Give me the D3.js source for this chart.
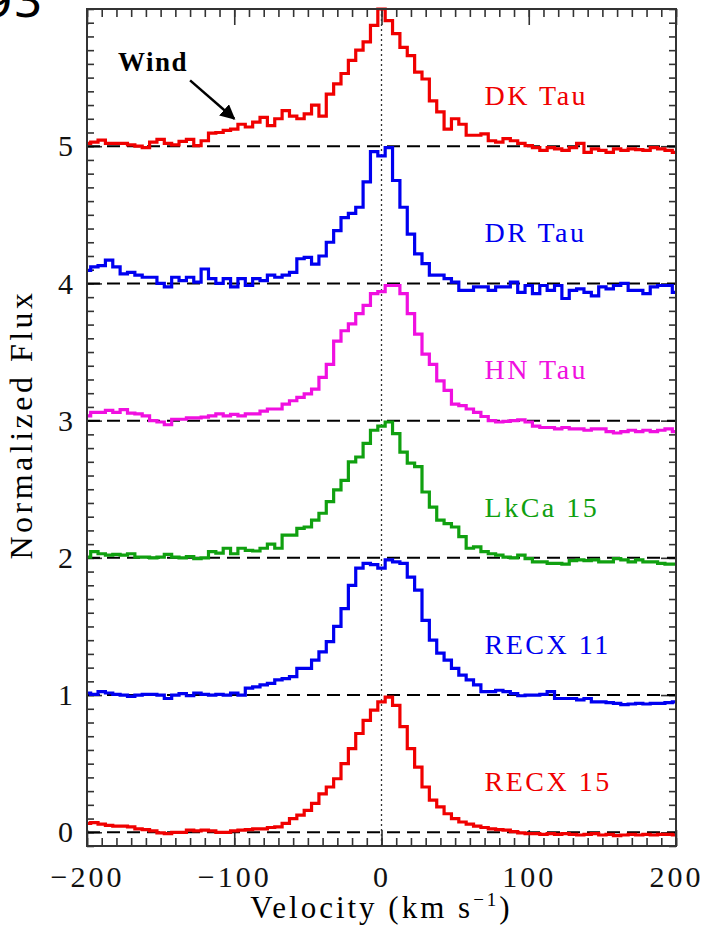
<!DOCTYPE html>
<html lang="en">
<head>
<meta charset="utf-8">
<style>
body { margin: 0; background: #fff; }
svg { display: block; }
.tick text { font-family: "Liberation Serif", serif; fill: #111; }
.tick line { stroke: #333; stroke-width: 1.6px; }
.axis path.domain { display: none; }
</style>
</head>
<body>
<svg width="705" height="929"></svg>
<script src="https://cdn.jsdelivr.net/npm/d3@7/dist/d3.min.js"></script>
<script>
// velocity grid (km/s)
var velocity = [-200,-195,-190,-185,-180,-175,-170,-165,-160,-155,
  -150,-145,-140,-135,-130,-125,-120,-115,-110,-105,
  -100,-95,-90,-85,-80,-75,-70,-65,-60,-55,
  -50,-45,-40,-35,-30,-25,-20,-15,-10,-5,
  0,
  5,10,15,20,25,30,35,40,45,50,
  55,60,65,70,75,80,85,90,95,100,
  105,110,115,120,125,130,135,140,145,150,
  155,160,165,170,175,180,185,190,195,200];

var dkTau = [0.02,0.03,0.045,0.02,0.02,0.02,0.01,0.0,-0.01,0.03,
  0.05,0.02,0.01,0.035,0.05,0.005,0.04,0.095,0.1,0.115,
  0.125,0.16,0.14,0.175,0.21,0.15,0.2,0.26,0.22,0.2,
  0.235,0.3,0.22,0.38,0.455,0.53,0.625,0.7,0.76,0.88,
  1.0,
  0.915,0.82,0.72,0.66,0.54,0.49,0.33,0.25,0.125,0.2,
  0.16,0.08,0.08,0.09,0.04,0.03,0.055,0.04,0.02,0.005,
  -0.01,-0.03,-0.01,-0.02,-0.03,-0.01,0.02,-0.045,-0.02,-0.03,
  -0.045,-0.02,-0.03,-0.02,-0.025,-0.03,-0.01,-0.02,-0.03,-0.045];

var drTau = [0.095,0.12,0.13,0.17,0.12,0.07,0.08,0.06,0.045,0.045,
  0.0,-0.025,0.045,0.02,0.045,0.01,0.105,0.035,0.0,0.035,
  -0.025,0.035,-0.015,0.035,0.02,0.06,0.045,0.06,0.08,0.18,
  0.19,0.14,0.2,0.3,0.385,0.48,0.51,0.555,0.74,0.96,
  0.93,
  0.99,0.75,0.555,0.36,0.215,0.145,0.06,0.06,0.035,0.01,
  -0.05,-0.05,-0.025,-0.025,-0.05,-0.025,-0.025,0.01,-0.065,-0.015,
  -0.075,-0.015,-0.05,-0.015,-0.11,-0.05,-0.04,-0.065,-0.09,-0.025,
  -0.04,-0.015,0.0,-0.05,-0.05,-0.075,-0.025,-0.015,-0.015,-0.065];

var hnTau = [0.035,0.06,0.06,0.075,0.06,0.08,0.055,0.05,0.035,0.0,
  -0.01,-0.03,0.01,0.01,0.02,0.02,0.025,0.035,0.05,0.035,
  0.045,0.035,0.05,0.05,0.07,0.085,0.085,0.12,0.145,0.17,
  0.195,0.23,0.315,0.41,0.58,0.655,0.705,0.78,0.84,0.925,
  0.94,
  0.985,0.985,0.925,0.78,0.63,0.485,0.41,0.29,0.22,0.12,
  0.11,0.085,0.06,0.03,0.0,-0.01,-0.005,0.0,0.005,-0.01,
  -0.04,-0.05,-0.05,-0.06,-0.05,-0.06,-0.06,-0.07,-0.06,-0.06,
  -0.08,-0.09,-0.08,-0.07,-0.08,-0.07,-0.08,-0.07,-0.06,-0.08];

var lkCa15 = [0.005,0.045,0.03,0.02,0.025,0.02,0.03,0.005,0.005,0.0,
  0.005,0.025,0.005,0.0,0.01,-0.005,0.0,0.045,0.035,0.07,
  0.03,0.07,0.055,0.05,0.07,0.1,0.07,0.165,0.165,0.215,
  0.225,0.275,0.325,0.41,0.495,0.565,0.7,0.735,0.835,0.93,
  0.96,
  0.99,0.905,0.77,0.69,0.665,0.48,0.37,0.275,0.25,0.225,
  0.155,0.07,0.08,0.045,0.03,0.02,0.005,0.0,0.02,-0.005,
  -0.03,-0.03,-0.04,-0.04,-0.045,-0.02,-0.015,-0.02,-0.015,-0.03,
  -0.03,-0.005,-0.015,-0.03,-0.015,-0.03,-0.03,-0.04,-0.045,-0.045];

var recx11 = [0.015,0.005,0.025,0.015,0.005,0.0,-0.01,0.0,0.005,0.005,
  0.0,-0.025,0.0,0.01,-0.005,0.015,0.005,0.0,0.005,0.0,
  0.015,0.0,0.05,0.06,0.075,0.085,0.11,0.12,0.135,0.195,
  0.195,0.255,0.315,0.39,0.5,0.63,0.8,0.925,0.96,0.95,
  0.925,
  0.985,0.97,0.96,0.86,0.765,0.545,0.4,0.305,0.255,0.195,
  0.145,0.11,0.075,0.025,0.025,0.035,0.025,0.01,-0.005,0.0,
  0.0,0.005,0.025,-0.025,-0.025,-0.025,-0.035,-0.025,-0.05,-0.05,
  -0.055,-0.06,-0.07,-0.065,-0.06,-0.065,-0.06,-0.06,-0.055,-0.05];

var recx15 = [0.065,0.07,0.06,0.05,0.045,0.045,0.04,0.025,0.02,0.01,
  -0.005,-0.01,0.0,0.0,0.015,0.01,0.015,0.01,0.0,0.0,
  0.01,0.015,0.02,0.025,0.025,0.035,0.04,0.065,0.1,0.125,
  0.16,0.21,0.28,0.33,0.39,0.5,0.61,0.72,0.815,0.89,
  0.95,
  0.985,0.925,0.77,0.61,0.475,0.33,0.235,0.185,0.135,0.1,
  0.075,0.06,0.045,0.035,0.025,0.02,0.015,0.005,-0.005,-0.01,
  -0.01,-0.015,-0.01,-0.015,-0.01,-0.015,-0.02,-0.015,-0.01,-0.02,
  -0.015,-0.025,-0.02,-0.015,-0.02,-0.015,-0.02,-0.015,-0.015,-0.02];

var names   = ["DK Tau", "DR Tau", "HN Tau", "LkCa 15", "RECX 11", "RECX 15"];
var offsets = [5, 4, 3, 2, 1, 0];
var colors  = ["#f00000", "#0000f0", "#f010e0", "#10a010", "#0000f0", "#f00000"];
var flux    = [dkTau, drTau, hnTau, lkCa15, recx11, recx15];

var xTicks = [-200, -100, 0, 100, 200];
var yTicks = [0, 1, 2, 3, 4, 5];

var svg = d3.select("svg");
var pLeft = 87, pRight = 676, pTop = 9, pBottom = 846;

var x = d3.scaleLinear().domain([-200, 200]).range([pLeft, pRight]),
    y = d3.scaleLinear().domain([-0.1, 6.0]).range([pBottom, pTop]);

var fmt = function(d) { return d < 0 ? "\u2212" + Math.abs(d) : d; };

// minor + major ticks on all four sides
var xMinor = d3.range(-200, 201, 10),
    yMinor = d3.range(-1, 61, 1).map(function(d) { return d / 10; });

function addAxis(axis, tr) {
  return svg.append("g").attr("class", "axis").attr("transform", tr).call(axis);
}
addAxis(d3.axisBottom(x).tickValues(xMinor).tickSize(-8).tickFormat(""), "translate(0," + pBottom + ")");
addAxis(d3.axisTop(x).tickValues(xMinor).tickSize(-8).tickFormat(""), "translate(0," + pTop + ")");
addAxis(d3.axisTop(x).tickValues(xTicks).tickSize(-16).tickFormat(""), "translate(0," + pTop + ")");
addAxis(d3.axisLeft(y).tickValues(yMinor).tickSize(-7).tickFormat(""), "translate(" + pLeft + ",0)");
addAxis(d3.axisRight(y).tickValues(yMinor).tickSize(-7).tickFormat(""), "translate(" + pRight + ",0)");
addAxis(d3.axisRight(y).tickValues(yTicks).tickSize(-15).tickFormat(""), "translate(" + pRight + ",0)");

var xa = addAxis(d3.axisBottom(x).tickValues(xTicks).tickSize(-16).tickPadding(20).tickFormat(fmt),
    "translate(0," + pBottom + ")");
xa.selectAll("text").attr("font-size", 30).attr("letter-spacing", 3);

var ya = addAxis(d3.axisLeft(y).tickValues(yTicks).tickSize(-15).tickPadding(14).tickFormat(fmt),
    "translate(" + pLeft + ",0)");
ya.selectAll("text").attr("font-size", 30);

// zero-velocity marker
svg.append("line")
    .attr("x1", x(0)).attr("x2", x(0))
    .attr("y1", pTop).attr("y2", pBottom)
    .attr("stroke", "#333").attr("stroke-width", 1.3)
    .attr("stroke-dasharray", "2,3");

// continuum levels
svg.selectAll("line.base")
  .data(offsets)
  .enter().append("line")
    .attr("class", "base")
    .attr("x1", x(-200)).attr("x2", x(200))
    .attr("y1", function(d) { return y(d); })
    .attr("y2", function(d) { return y(d); })
    .attr("stroke", "#000").attr("stroke-width", 2)
    .attr("stroke-dasharray", "13,7");

var line = d3.line().curve(d3.curveStep);

svg.selectAll("path.spec")
  .data(flux)
  .enter().append("path")
    .attr("class", "spec")
    .attr("fill", "none")
    .attr("stroke", function(d, i) { return colors[i]; })
    .attr("stroke-width", 3.2)
    .attr("d", function(d, i) {
      return line(d.map(function(f, j) { return [x(velocity[j]), y(f + offsets[i])]; }));
    });

svg.selectAll("text.name")
  .data(names)
  .enter().append("text")
    .attr("class", "name")
    .attr("x", x(70))
    .attr("y", function(d, i) { return y(offsets[i] + 0.3); })
    .attr("fill", function(d, i) { return colors[i]; })
    .attr("font-family", "Liberation Serif, serif")
    .attr("font-size", 28)
    .attr("letter-spacing", 2.5)
    .text(function(d) { return d; });

// wind annotation
svg.append("defs").append("marker")
    .attr("id", "head")
    .attr("viewBox", "0 0 10 10")
    .attr("refX", 9).attr("refY", 5)
    .attr("markerWidth", 6).attr("markerHeight", 6)
    .attr("orient", "auto")
  .append("path").attr("d", "M0,0L10,5L0,10z").attr("fill", "#000");

svg.append("text")
    .attr("x", x(-179)).attr("y", y(5.55))
    .attr("font-family", "Liberation Serif, serif")
    .attr("font-size", 27).attr("font-weight", "bold")
    .attr("letter-spacing", 1.5)
    .text("Wind");

svg.append("line")
    .attr("x1", x(-130)).attr("y1", y(5.48))
    .attr("x2", x(-100)).attr("y2", y(5.2))
    .attr("stroke", "#000").attr("stroke-width", 2.5)
    .attr("marker-end", "url(#head)");

// frame
svg.append("rect")
    .attr("x", pLeft).attr("y", pTop)
    .attr("width", pRight - pLeft).attr("height", pBottom - pTop)
    .attr("fill", "none").attr("stroke", "#333").attr("stroke-width", 2);

// axis titles
var xt = svg.append("text")
    .attr("x", x(0)).attr("y", 918)
    .attr("text-anchor", "middle")
    .attr("font-family", "Liberation Serif, serif")
    .attr("font-size", 31).attr("letter-spacing", 3)
    .text("Velocity (km s");
xt.append("tspan").attr("dy", -12).attr("font-size", 19).text("\u22121");
xt.append("tspan").attr("dy", 12).text(")");

svg.append("text")
    .attr("transform", "translate(32," + ((pTop + pBottom) / 2 - 3) + ") rotate(-90)")
    .attr("text-anchor", "middle")
    .attr("font-family", "Liberation Serif, serif")
    .attr("font-size", 32).attr("letter-spacing", 3.5)
    .text("Normalized Flux");

// cropped figure number in the corner
svg.append("text")
    .attr("x", -17).attr("y", 17)
    .attr("font-family", "DejaVu Sans, sans-serif")
    .attr("font-size", 47)
    .text("93");
</script>
</body>
</html>
